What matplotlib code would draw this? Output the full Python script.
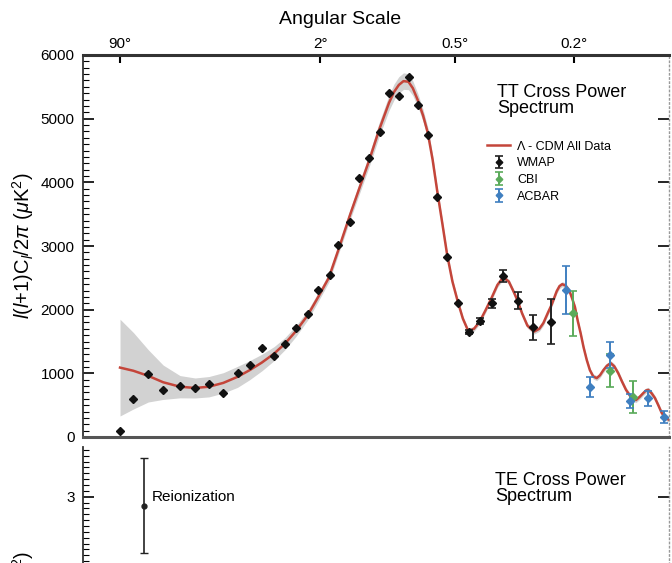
import numpy as np
import matplotlib
matplotlib.use("Agg")
import matplotlib.pyplot as plt
from matplotlib.ticker import FixedLocator, MultipleLocator, NullLocator

plt.rcParams['font.family'] = ['Liberation Sans', 'DejaVu Sans']
plt.rcParams['mathtext.fontset'] = 'custom'
plt.rcParams['mathtext.rm'] = 'Liberation Sans'
plt.rcParams['mathtext.it'] = 'Liberation Sans:italic'

# ---- 数据 ----
# 顶部角尺度刻度 (对应多极矩 l)
angle_l = [2, 90, 360, 900]
angle_labels = ['90°', '2°', '0.5°', '0.2°']

# Lambda-CDM 模型曲线 + 灰色误差带半宽
model_l = [2, 3, 4.5, 6.5, 9.5, 13, 17, 22, 28, 34,
           41, 49, 57, 66, 77, 88, 100, 112, 128, 142,
           158, 175, 194, 204, 214, 224, 235, 245, 257, 270,
           282, 295, 307, 322, 336, 352, 369, 385, 403, 423,
           443, 465, 489, 512, 536, 560, 580, 599, 620, 645,
           678, 705, 726, 750, 771, 799, 815, 831, 850, 873,
           890, 908, 925, 944, 963, 984, 1005, 1028, 1052, 1075,
           1099, 1125, 1153, 1180, 1211, 1240, 1272, 1318, 1354, 1385,
           1417, 1440, 1461, 1490, 1522, 1555, 1584, 1610, 1632, 1655]
model_val = [1090, 1040, 960, 860, 790, 770, 790, 850, 945, 1050,
             1170, 1310, 1465, 1660, 1910, 2200, 2500, 2940, 3490, 3910,
             4350, 4820, 5250, 5420, 5530, 5590, 5580, 5480, 5290, 5050,
             4780, 4350, 3880, 3350, 2860, 2440, 2120, 1860, 1665, 1700,
             1810, 1990, 2190, 2390, 2510, 2440, 2290, 2140, 1940, 1750,
             1655, 1700, 1790, 1950, 2080, 2290, 2370, 2400, 2380, 2300,
             2180, 2040, 1830, 1630, 1410, 1210, 1050, 950, 925, 970,
             1050, 1120, 1160, 1110, 1000, 870, 740, 610, 580, 630,
             690, 730, 740, 690, 610, 490, 380, 320, 290, 270]
band_hw = [760, 600, 410, 270, 175, 157, 160, 160, 165, 150,
           130, 110, 95, 85, 75, 70, 70, 70, 80, 90,
           100, 110, 120, 125, 130, 130, 125, 115, 105, 95,
           85, 75, 65, 55, 50, 45, 45, 40, 40, 40,
           40, 40, 40, 40, 40, 40, 40, 40, 40, 40,
           40, 40, 40, 40, 40, 40, 40, 40, 40, 40,
           40, 40, 40, 40, 40, 40, 40, 40, 40, 40,
           40, 40, 40, 40, 40, 40, 40, 40, 40, 40,
           40, 40, 40, 40, 40, 40, 40, 40, 40, 40]

# WMAP
wmap_l = [2, 3, 4.5, 6.5, 9.5, 13, 17, 22, 28, 34,
          41, 49, 57, 66, 77, 88, 101, 112, 128, 142,
          158, 176, 194, 214, 236, 257, 282, 308, 336, 368,
          405, 444, 489, 536, 599, 671, 766]
wmap_val = [94, 592, 985, 738, 806, 765, 828, 696, 1001, 1131,
            1403, 1277, 1456, 1708, 1928, 2309, 2545, 3016, 3373, 4064,
            4378, 4787, 5409, 5362, 5660, 5216, 4744, 3775, 2823, 2110,
            1645, 1818, 2100, 2529, 2142, 1723, 1812]
wmap_err = [None] * 30 + [30, 45, 70, 100, 130, 200, 350]

# CBI
cbi_l = [894, 1148, 1326]
cbi_val = [1943, 1042, 634]
cbi_err = [350, 260, 250]

# ACBAR
acbar_l = [853, 1006, 1148, 1305, 1456, 1609]
acbar_val = [2309, 781, 1288, 566, 608, 319]
acbar_err = [370, 160, 200, 110, 120, 95]

# TE 再电离点
reion_l = [4]
reion_val = [2.85]
reion_err = [0.81]


def fwd(x):
    return np.power(np.clip(x, 0, None), 0.25)


def inv(y):
    return np.power(np.clip(y, 0, None), 4)


fig = plt.figure(figsize=(6.72, 5.63), dpi=100)
W, H = 672, 563
ax = fig.add_axes([83 / W, 1 - 437 / H, 586 / W, 382 / H])
ax2 = fig.add_axes([83 / W, 1 - 760 / H, 586 / W, 313 / H])

red = '#c4453a'
lo = np.array(model_val) - np.array(band_hw)
hi = np.array(model_val) + np.array(band_hw)
ax.fill_between(model_l, lo, hi, color='#d2d2d2', lw=0, zorder=1)
line, = ax.plot(model_l, model_val, color=red, lw=1.8, zorder=2)

werr = np.array([np.nan if e is None else e for e in wmap_err], dtype=float)
eb_w = ax.errorbar(wmap_l, wmap_val, yerr=werr, fmt='D', ms=4.2, color='#111111',
                   ecolor='#222222', elinewidth=1.4, capsize=3, capthick=1.2, zorder=4)
eb_c = ax.errorbar(cbi_l, cbi_val, yerr=cbi_err, fmt='D', ms=4.2, color='#5aaa5a',
                   elinewidth=1.4, capsize=3, capthick=1.2, zorder=3)
eb_a = ax.errorbar(acbar_l, acbar_val, yerr=acbar_err, fmt='D', ms=4.2, color='#3f7fc0',
                   elinewidth=1.4, capsize=3, capthick=1.2, zorder=3)

ax.legend([line, eb_w, eb_c, eb_a], ['Λ - CDM All Data', 'WMAP', 'CBI', 'ACBAR'],
          loc='upper left', bbox_to_anchor=(0.69, 0.776), frameon=False, fontsize=9,
          handlelength=1.8, handletextpad=0.6, labelspacing=0.38,
          borderaxespad=0, borderpad=0, markerscale=0.8)

for a in (ax, ax2):
    a.set_xscale('function', functions=(fwd, inv))
    a.set_xlim(0.496, 1655)
    a.spines['right'].set_linestyle((0, (1, 2)))
    a.spines['right'].set_color('#999999')
    a.spines['right'].set_linewidth(1)
    a.spines['left'].set_linewidth(1.3)
    a.spines['left'].set_color('#333333')

# 顶部角尺度轴
ax.xaxis.set_ticks_position('top')
ax.xaxis.set_major_locator(FixedLocator(angle_l))
ax.set_xticklabels(angle_labels)
ax.xaxis.set_minor_locator(NullLocator())
ax.tick_params(axis='x', direction='in', length=6, width=1.5, pad=3, labelsize=11)
ax.spines['top'].set_linewidth(2.2)
ax.spines['top'].set_color('#333333')
ax.spines['bottom'].set_linewidth(2.2)
ax.spines['bottom'].set_color('#555555')

ax.set_ylim(0, 6000)
ax.yaxis.set_major_locator(MultipleLocator(1000))
ax.yaxis.set_minor_locator(MultipleLocator(100))
ax.tick_params(axis='y', which='major', direction='in', length=8, width=1.2,
               left=True, right=True, labelsize=11, pad=6)
ax.tick_params(axis='y', which='minor', direction='in', length=4, width=0.8,
               left=True, right=False)
ax.set_ylabel(r'$l(l{+}1)\mathrm{C}_l/2\pi\ (\mu\mathrm{K}^2)$', fontsize=14.5)
ax.yaxis.set_label_coords(-0.08, 0.5)

# TE 面板
ax2.errorbar(reion_l, reion_val, yerr=reion_err, fmt='o', ms=3.5, color='#222222',
             elinewidth=1.2, capsize=3, capthick=1)
ax2.annotate('Reionization', xy=(reion_l[0], reion_val[0]), xytext=(6, 6),
             textcoords='offset points', va='center', fontsize=11)
ax2.set_ylim(-1.5, 3.85)
ax2.yaxis.set_major_locator(FixedLocator([3]))
ax2.yaxis.set_minor_locator(MultipleLocator(0.1))
ax2.tick_params(axis='y', which='major', direction='in', length=8, width=1.2,
                left=True, right=True, labelsize=11, pad=6)
ax2.tick_params(axis='y', which='minor', direction='in', length=4, width=0.8,
                left=True, right=False)
ax2.tick_params(axis='x', which='both', bottom=False, top=False, labelbottom=False)
ax2.spines['top'].set_visible(False)
ax2.set_ylabel(r'$(l{+}1)\mathrm{C}_l/2\pi\ (\mu\mathrm{K}^2)$', fontsize=14.5)
ax2.yaxis.set_label_coords(-0.08, 0.44)

fig.text(340 / W, 1 - 19 / H, 'Angular Scale', ha='center', va='center', fontsize=14)
fig.text(497 / W, 1 - 84 / H, 'TT Cross Power\nSpectrum', ha='left', va='top',
         fontsize=13, linespacing=0.95)
fig.text(495 / W, 1 - 472 / H, 'TE Cross Power\nSpectrum', ha='left', va='top',
         fontsize=13, linespacing=0.95)

fig.savefig('out.png', dpi=100)
